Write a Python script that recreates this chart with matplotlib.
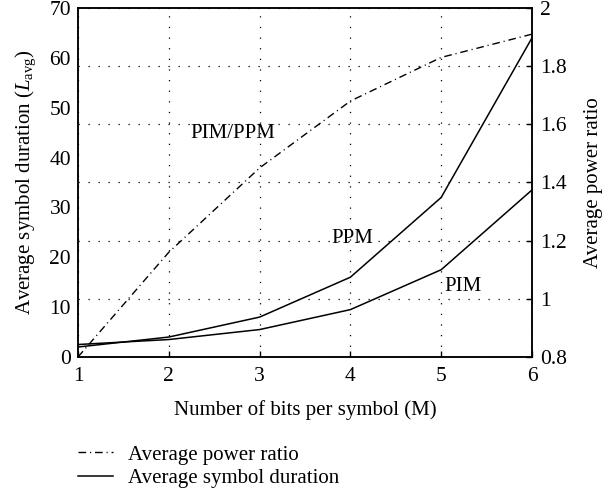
import numpy as np
import matplotlib
matplotlib.use("Agg")
import matplotlib.pyplot as plt

plt.rcParams['font.family'] = ['Liberation Serif', 'DejaVu Serif']
plt.rcParams['mathtext.fontset'] = 'custom'
plt.rcParams['mathtext.rm'] = 'Liberation Serif'
plt.rcParams['mathtext.it'] = 'Liberation Serif:italic'

# data
bits = [1, 2, 3, 4, 5, 6]
ppm_duration = [2, 4, 8, 16, 32, 64]
pim_duration = [2.5, 3.5, 5.5, 9.5, 17.5, 33.5]
power_ratio = [0.80, 1.16, 1.45, 1.68, 1.83, 1.91]

fig = plt.figure(figsize=(6.16, 4.99), dpi=100)
ax = fig.add_axes([0.1266, 0.2846, 0.737, 0.6994])
ax2 = ax.twinx()

dashdot = (0, (5.5, 2.8, 0.8, 2.8))
ax.plot(bits, ppm_duration, color='black', lw=1.1)
ax.plot(bits, pim_duration, color='black', lw=1.1)
ax2.plot(bits, power_ratio, color='black', lw=1.0, linestyle=dashdot)

ax.set_xlim(1, 6)
ax.set_ylim(0, 70)
ax2.set_ylim(0.8, 2)
ax.set_xticks([1, 2, 3, 4, 5, 6])
ax.set_yticks(np.arange(0, 71, 10))
ax2.set_yticks([0.8, 1, 1.2, 1.4, 1.6, 1.8, 2])
ax2.set_yticklabels(['0.8', '1', '1.2', '1.4', '1.6', '1.8', '2'])

# grid: vertical from x axis, horizontal from right axis
ax.grid(axis='x', linestyle=(0, (1, 7.5)), color='black', lw=0.9)
ax2.grid(axis='y', linestyle=(0, (1, 7)), color='black', lw=0.9)

for a in (ax, ax2):
    a.tick_params(direction='in', length=4, width=1, labelsize=15.5, colors='black')
    for s in a.spines.values():
        s.set_linewidth(1.1)
ax.tick_params(axis='y', length=0, pad=5)
ax.tick_params(axis='x', pad=7)
ax2.tick_params(axis='y', pad=6)

ax.set_xlabel('Number of bits per symbol (M)', fontsize=15, labelpad=10)
ax.set_ylabel(r'Average symbol duration ($L_{\mathrm{avg}}$)', fontsize=15, labelpad=8)
ax2.set_ylabel('Average power ratio', fontsize=15, labelpad=12)

ax.text(2.70, 44.8, 'PIM/PPM', fontsize=15, ha='center', va='center')
ax.text(4.02, 23.8, 'PPM', fontsize=15, ha='center', va='center')
ax.text(5.24, 14.2, 'PIM', fontsize=15, ha='center', va='center')

h1, = ax.plot([], [], color='black', lw=1.0, linestyle=dashdot)
h2, = ax.plot([], [], color='black', lw=1.1)
fig.legend([h1, h2], ['Average power ratio', 'Average symbol duration'],
           loc='upper left', bbox_to_anchor=(0.1266, 0.108), frameon=False,
           fontsize=15, handlelength=1.7, handletextpad=0.7, labelspacing=0.2,
           borderpad=0, borderaxespad=0)

fig.savefig('out.png', dpi=100)
